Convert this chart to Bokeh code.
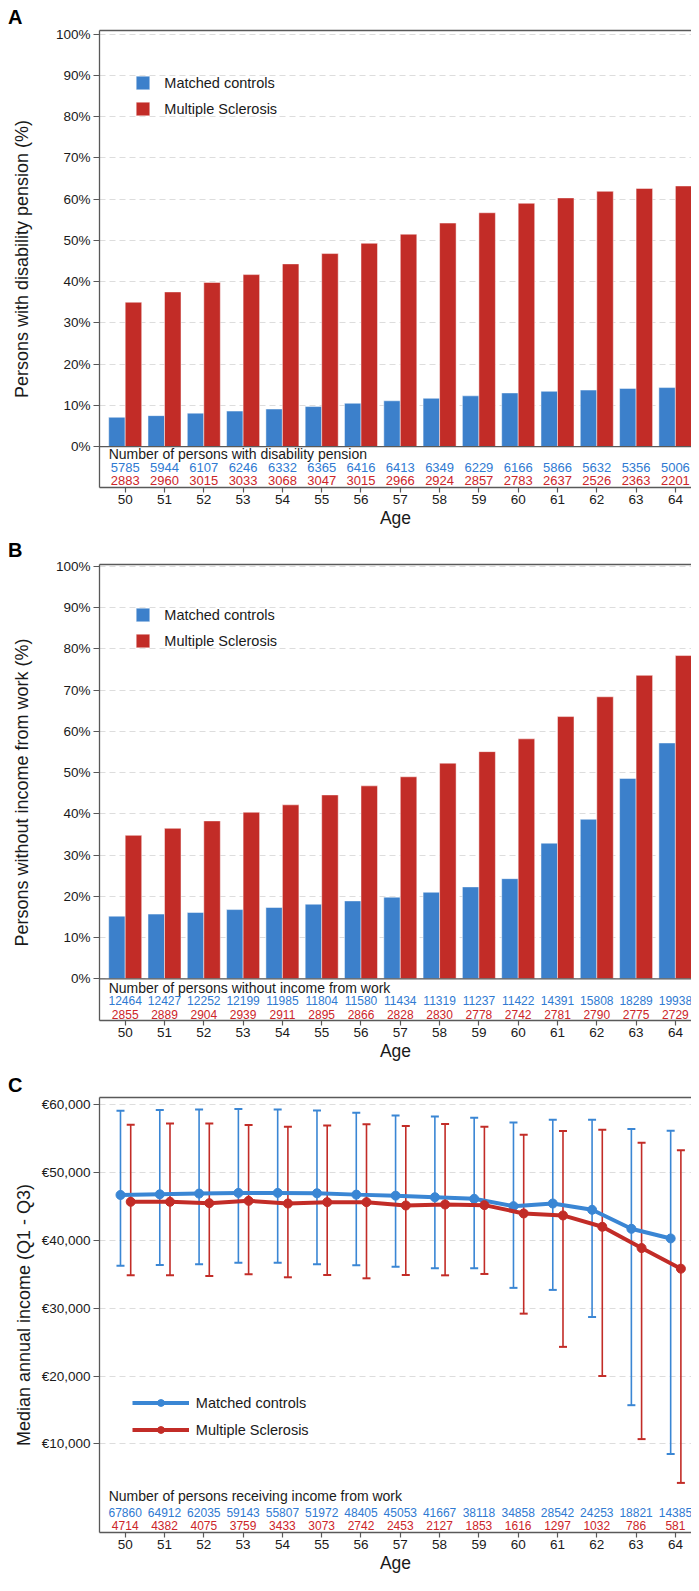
from bokeh.plotting import figure
from bokeh.layouts import column
from bokeh.models import (Range1d, FixedTicker, LinearAxis, Span, Legend,
                          LegendItem, PrintfTickFormatter, Title)
from bokeh.core.properties import value
from bokeh.embed import file_html
from bokeh.resources import INLINE

# ---------------- data ----------------
ages = [50, 51, 52, 53, 54, 55, 56, 57, 58, 59, 60, 61, 62, 63, 64]

dis_controls_pct = [7.1, 7.5, 8.1, 8.6, 9.1, 9.7, 10.5, 11.1, 11.7, 12.3, 13.0, 13.4, 13.7, 14.1, 14.3]
dis_ms_pct = [35.0, 37.5, 39.8, 41.7, 44.3, 46.8, 49.3, 51.5, 54.2, 56.7, 59.0, 60.3, 61.9, 62.6, 63.2]
dis_controls_n = [5785, 5944, 6107, 6246, 6332, 6365, 6416, 6413, 6349, 6229, 6166, 5866, 5632, 5356, 5006]
dis_ms_n = [2883, 2960, 3015, 3033, 3068, 3047, 3015, 2966, 2924, 2857, 2783, 2637, 2526, 2363, 2201]

noinc_controls_pct = [15.2, 15.7, 16.1, 16.8, 17.3, 18.1, 18.9, 19.8, 21.0, 22.3, 24.3, 32.9, 38.7, 48.6, 57.2]
noinc_ms_pct = [34.8, 36.5, 38.3, 40.4, 42.2, 44.6, 46.8, 49.0, 52.3, 55.1, 58.2, 63.6, 68.4, 73.6, 78.4]
noinc_controls_n = [12464, 12427, 12252, 12199, 11985, 11804, 11580, 11434, 11319, 11237, 11422, 14391, 15808, 18289, 19938]
noinc_ms_n = [2855, 2889, 2904, 2939, 2911, 2895, 2866, 2828, 2830, 2778, 2742, 2781, 2790, 2775, 2729]

inc_controls_med = [46700, 46800, 46900, 47000, 47000, 46950, 46750, 46600, 46370, 46130, 45050, 45440, 44510, 41710, 40290]
inc_controls_q1 = [36270, 36370, 36470, 36720, 36720, 36470, 36320, 36130, 35880, 35880, 33000, 32700, 28700, 15700, 8500]
inc_controls_q3 = [59120, 59220, 59310, 59360, 59310, 59170, 58820, 58430, 58280, 58090, 57400, 57790, 57790, 56420, 56180]
inc_ms_med = [45690, 45690, 45490, 45830, 45440, 45640, 45640, 45150, 45290, 45200, 43970, 43680, 42010, 38870, 35830]
inc_ms_q1 = [34850, 34850, 34750, 35000, 34560, 34900, 34410, 34900, 34850, 35050, 29200, 24300, 20000, 10700, 4240]
inc_ms_q3 = [57060, 57250, 57250, 57010, 56760, 56960, 57110, 56860, 57160, 56760, 55590, 56130, 56320, 54410, 53280]
inc_controls_n = [67860, 64912, 62035, 59143, 55807, 51972, 48405, 45053, 41667, 38118, 34858, 28542, 24253, 18821, 14385]
inc_ms_n = [4714, 4382, 4075, 3759, 3433, 3073, 2742, 2453, 2127, 1853, 1616, 1297, 1032, 786, 581]

pct_ticks = [0, 10, 20, 30, 40, 50, 60, 70, 80, 90, 100]
eur_ticks = [10000, 20000, 30000, 40000, 50000, 60000]

# ---------------- style ----------------
FONT = "Liberation Sans"
BLUE = "#3C80CB"
BLUE_LINE = "#3A86D4"
RED = "#C22C27"
BLUE_TXT = "#2F7AD2"
RED_TXT = "#CC2529"
AXIS_C = "#595959"
TXT = "#1a1a1a"
GRID_C = "#dddddd"

W = 691
BL = 99
X0, X1 = 49.346, 64.41
BW = 0.42


def base_fig(height, top, bottom, y0, y1, ylabel, yticks, ylab_standoff, letter, letter_standoff):
    p = figure(width=W, height=height, x_range=Range1d(X0, X1), y_range=Range1d(y0, y1),
               output_backend="svg", toolbar_location=None,
               min_border_left=BL, min_border_right=0, min_border_top=top,
               min_border_bottom=bottom)
    p.title = Title(text=letter, align="left", offset=-91.5, standoff=letter_standoff,
                    text_font=FONT, text_font_style="bold", text_font_size="20px",
                    text_color="black")
    p.outline_line_color = None
    p.background_fill_color = "white"
    p.border_fill_color = "white"
    p.xgrid.visible = False
    p.ygrid.grid_line_color = GRID_C
    p.ygrid.grid_line_dash = "6 4"
    p.ygrid.grid_line_width = 1

    p.xaxis.ticker = FixedTicker(ticks=ages)
    p.xaxis.axis_label = "Age"
    p.yaxis.ticker = FixedTicker(ticks=yticks)
    p.yaxis.axis_label = ylabel
    for ax in (p.xaxis[0], p.yaxis[0]):
        ax.axis_line_color = AXIS_C
        ax.axis_line_width = 1.3
        ax.major_tick_line_color = AXIS_C
        ax.major_tick_line_width = 1.2
        ax.major_tick_in = 0
        ax.minor_tick_line_color = None
        ax.major_label_text_font = FONT
        ax.major_label_text_font_size = "13.5px"
        ax.major_label_text_color = TXT
        ax.axis_label_text_font = FONT
        ax.axis_label_text_font_style = "normal"
        ax.axis_label_text_color = TXT
    p.xaxis.major_tick_out = 5
    p.xaxis.major_label_standoff = 2
    p.xaxis.axis_label_standoff = 1
    p.xaxis.axis_label_text_font_size = "17.5px"
    p.yaxis.major_tick_out = 6
    p.yaxis.major_label_standoff = 3
    p.yaxis.axis_label_standoff = ylab_standoff
    p.yaxis.axis_label_text_font_size = "18px"

    top_ax = LinearAxis(ticker=FixedTicker(ticks=[]), axis_line_color=AXIS_C,
                        axis_line_width=1.3, major_tick_line_color=None,
                        major_tick_out=0, major_tick_in=0, major_label_standoff=0,
                        minor_tick_line_color=None, major_label_text_font_size="0px")
    p.add_layout(top_ax, "above")
    return p


def number_rows(p, title, title_y, blue_vals, blue_y, red_vals, red_y, size):
    p.text(x=[ages[0] - BW], y=[title_y], text=[title], text_align="left",
           text_baseline="middle", text_font=value(FONT), text_font_size="14px",
           text_color=TXT)
    p.text(x=ages, y=[blue_y] * len(ages), text=[str(v) for v in blue_vals],
           text_align="center", text_baseline="middle", text_font=value(FONT),
           text_font_size=size, text_color=BLUE_TXT)
    p.text(x=ages, y=[red_y] * len(ages), text=[str(v) for v in red_vals],
           text_align="center", text_baseline="middle", text_font=value(FONT),
           text_font_size=size, text_color=RED_TXT)


def bar_panel(height, top, bottom, y0, y1, ylabel, ctrl, ms, title, n_c, n_m,
              rows_y, num_size, let, let_standoff, leg_off):
    fh = height - top - bottom
    p = base_fig(height, top, bottom, y0, y1, ylabel, pct_ticks, 21, let, let_standoff)
    p.yaxis.formatter = PrintfTickFormatter(format="%d%%")
    rb = p.vbar(x=[a - BW / 2 for a in ages], top=ctrl, bottom=0, width=BW,
                fill_color=BLUE, line_color="white", line_alpha=0.6, line_width=0.8)
    rr = p.vbar(x=[a + BW / 2 for a in ages], top=ms, bottom=0, width=BW,
                fill_color=RED, line_color="white", line_alpha=0.6, line_width=0.8)
    p.add_layout(Span(location=0, dimension="width", line_color=AXIS_C, line_width=1.3))
    number_rows(p, title, rows_y[0], n_c, rows_y[1], n_m, rows_y[2], num_size)
    leg_h = 17 + 9 + 17
    leg = Legend(items=[LegendItem(label="Matched controls", renderers=[rb]),
                        LegendItem(label="Multiple Sclerosis", renderers=[rr])],
                 location=(35.3, fh - leg_off - leg_h), padding=0, margin=0, spacing=9,
                 glyph_width=17, glyph_height=17, label_height=17, label_standoff=13,
                 label_text_font=FONT, label_text_font_size="14.5px",
                 label_text_color=TXT, background_fill_alpha=0, border_line_color=None)
    p.add_layout(leg, "center")
    return p


pA = bar_panel(532, 29, 45, -9.93, 100.9, "Persons with disability pension (%)",
               dis_controls_pct, dis_ms_pct, "Number of persons with disability pension",
               dis_controls_n, dis_ms_n, (-1.77, -5.1, -8.3), "13px", "A", 6, 45)

pB = bar_panel(533, 31, 45, -10.1, 100.48, "Persons without income from work (%)",
               noinc_controls_pct, noinc_ms_pct, "Number of persons without income from work",
               noinc_controls_n, noinc_ms_n, (-2.2, -5.3, -8.6), "12px", "B", 8, 43)

# ---------------- panel C ----------------
hC, tC, bC = 510, 32, 42
y0C, y1C = -3073, 61072
pC = base_fig(hC, tC, bC, y0C, y1C, "Median annual income (Q1 - Q3)", eur_ticks, 5, "C", 3)
pC.yaxis.major_label_overrides = {t: "€{:,}".format(t) for t in eur_ticks}

xc = [a - 0.12 for a in ages]
xm = [a + 0.14 for a in ages]
for xs, lo, hi, col in ((xc, inc_controls_q1, inc_controls_q3, BLUE_LINE),
                        (xm, inc_ms_q1, inc_ms_q3, RED)):
    pC.segment(x0=xs, y0=lo, x1=xs, y1=hi, line_color=col, line_width=1.6)
    pC.scatter(x=xs, y=hi, marker="dash", size=8, line_color=col, line_width=2)
    pC.scatter(x=xs, y=lo, marker="dash", size=8, line_color=col, line_width=2)

lc = pC.line(x=xc, y=inc_controls_med, line_color=BLUE_LINE, line_width=4)
sc = pC.scatter(x=xc, y=inc_controls_med, marker="circle", size=9,
                fill_color=BLUE_LINE, line_color=BLUE_LINE)
lm = pC.line(x=xm, y=inc_ms_med, line_color=RED, line_width=4)
sm = pC.scatter(x=xm, y=inc_ms_med, marker="circle", size=9, fill_color=RED, line_color=RED)

number_rows(pC, "Number of persons receiving income from work", 2318,
            inc_controls_n, -179, inc_ms_n, -2090, "12px")

legC_h = 17 + 10 + 17
legC = Legend(items=[LegendItem(label="Matched controls", renderers=[lc, sc]),
                     LegendItem(label="Multiple Sclerosis", renderers=[lm, sm])],
              location=(32.8, 138 - legC_h), padding=0, margin=0, spacing=10,
              glyph_width=57, glyph_height=17, label_height=17, label_standoff=7,
              label_text_font=FONT, label_text_font_size="14.5px",
              label_text_color=TXT, background_fill_alpha=0, border_line_color=None)
pC.add_layout(legC, "center")

layout = column(pA, pB, pC, spacing=0)
open("out.html", "w").write(file_html(layout, INLINE))
